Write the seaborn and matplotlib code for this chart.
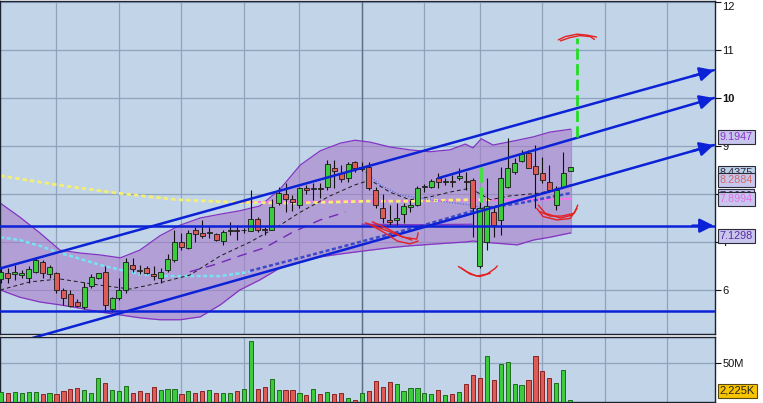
import matplotlib
matplotlib.use("Agg")
import matplotlib.pyplot as plt
import matplotlib.transforms as mtransforms
import seaborn as sns

# ---- price data (one candle per session) ----
opens = [6.22, 6.36, 6.33, 6.31, 6.24, 6.38, 6.58, 6.33, 6.35, 6.00,
         5.92, 5.76, 5.65, 6.08, 6.24, 6.38, 5.60, 5.83, 6.01, 6.52,
         6.42, 6.45, 6.33, 6.26, 6.42, 6.63, 6.99, 6.88, 7.26, 7.19,
         7.18, 7.16, 7.03, 7.22, 7.23, 7.24, 7.23, 7.47, 7.27, 7.25,
         7.81, 7.99, 7.90, 7.77, 8.12, 8.11, 8.13, 8.15, 8.55, 8.43,
         8.33, 8.66, 8.53, 8.57, 8.08, 7.71, 7.45, 7.46, 7.58, 7.73,
         7.77, 8.14, 8.15, 8.33, 8.26, 8.28, 8.33, 8.28, 8.29, 6.49,
         7.01, 7.63, 7.46, 8.15, 8.46, 8.69, 8.85, 8.59, 8.43, 8.24,
         7.77, 8.15, 8.48]
highs = [6.48, 6.46, 6.52, 6.42, 6.49, 6.68, 6.63, 6.52, 6.38, 6.04,
         5.99, 5.81, 6.17, 6.33, 6.36, 6.49, 5.86, 6.24, 6.66, 6.67,
         6.52, 6.50, 6.49, 6.45, 6.76, 7.25, 7.19, 7.26, 7.32, 7.46,
         7.31, 7.19, 7.25, 7.42, 7.35, 7.29, 8.08, 7.53, 7.32, 7.89,
         8.15, 8.22, 7.98, 8.15, 8.19, 8.22, 8.22, 8.71, 8.71, 8.60,
         8.66, 8.69, 8.66, 8.67, 8.15, 8.01, 7.77, 7.81, 7.81, 7.88,
         8.17, 8.20, 8.31, 8.43, 8.33, 8.40, 8.54, 8.46, 8.33, 7.85,
         8.33, 7.74, 8.57, 9.16, 8.74, 8.92, 8.92, 9.02, 8.78, 8.60,
         8.17, 8.88, 8.57]
lows = [6.15, 6.15, 6.21, 6.24, 6.14, 6.35, 6.26, 6.24, 5.94, 5.69,
        5.65, 5.65, 5.60, 6.04, 6.22, 5.55, 5.55, 5.79, 5.93, 6.38,
        6.33, 6.33, 6.21, 6.14, 6.38, 6.59, 6.83, 6.85, 7.01, 7.08,
        7.08, 7.02, 6.94, 7.15, 7.04, 7.19, 7.22, 7.21, 7.15, 7.24,
        7.77, 7.63, 7.65, 7.70, 8.01, 7.88, 7.91, 8.08, 8.12, 8.26,
        8.26, 8.46, 8.48, 8.08, 7.70, 7.39, 7.35, 7.35, 7.39, 7.62,
        7.74, 8.05, 8.12, 8.12, 8.19, 8.15, 8.29, 8.08, 7.11, 6.45,
        6.83, 7.11, 7.15, 8.12, 8.41, 8.66, 8.54, 7.70, 8.22, 8.05,
        7.67, 8.12, 8.47]
closes = [6.38, 6.26, 6.37, 6.36, 6.43, 6.63, 6.36, 6.47, 6.00, 5.84,
          5.67, 5.67, 6.07, 6.28, 6.35, 5.69, 5.83, 6.01, 6.58, 6.43,
          6.39, 6.36, 6.29, 6.38, 6.64, 6.99, 6.90, 7.19, 7.17, 7.13,
          7.19, 7.04, 7.21, 7.24, 7.22, 7.26, 7.47, 7.25, 7.24, 7.72,
          8.03, 7.89, 7.83, 8.12, 8.08, 8.12, 8.11, 8.62, 8.48, 8.31,
          8.62, 8.54, 8.56, 8.12, 7.77, 7.49, 7.42, 7.51, 7.76, 7.77,
          8.12, 8.16, 8.27, 8.24, 8.28, 8.26, 8.38, 8.26, 7.70, 7.70,
          7.74, 7.35, 8.33, 8.54, 8.64, 8.83, 8.55, 8.41, 8.29, 8.08,
          8.08, 8.43, 8.56]

# volume in millions and its up/down colouring
volumes = [12.2, 10.9, 12.2, 10.9, 12.2, 12.2, 9.6, 10.9, 9.6, 13.5,
           16.1, 17.4, 14.8, 10.9, 30.5, 24.0, 14.8, 13.5, 20.0, 10.9,
           13.5, 10.9, 18.7, 14.8, 16.1, 16.1, 9.6, 13.5, 10.9, 13.5,
           14.8, 10.9, 10.9, 10.9, 13.5, 16.1, 79.0, 16.1, 18.7, 29.2,
           14.8, 14.8, 14.8, 10.9, 8.3, 16.1, 9.6, 12.2, 9.6, 10.9,
           4.4, 1.8, 10.9, 13.5, 26.6, 19.5, 25.3, 22.7, 13.5, 17.4,
           17.4, 10.9, 9.6, 14.8, 8.3, 9.6, 12.2, 22.7, 34.3, 30.5,
           59.1, 27.9, 48.7, 51.3, 22.7, 21.4, 27.9, 59.1, 39.6, 30.5,
           24.0, 40.9, 1.8]
vol_dir = ("GRGGGGRGRR" "RRGGGRGGGR" "RRRGGGRGRR" "GRGGRGGRRG" "GRRGRGRGRR"
           "GRGRRRRGGG" "GGGRGRGRRR" "GRGGGGRRRR" "GGG")

# ---- indicators (x in session index, y in price) ----
band_x = [-0.1, 2.7, 5.6, 8.5, 11.4, 14.3, 17.2, 20.0, 22.9, 25.8, 28.7, 31.6,
          34.4, 37.3, 40.2, 43.1, 46.0, 48.9, 51.0, 53.2, 56.0, 58.9, 61.8,
          64.7, 66.9, 68.0, 69.2, 70.9, 74.4, 76.7, 79.1, 82.1]
band_upper = [7.81, 7.52, 7.19, 6.83, 6.77, 6.73, 6.67, 6.83, 7.13, 7.35, 7.50,
              7.58, 7.65, 7.75, 8.10, 8.60, 8.90, 9.06, 9.12, 9.08, 8.98, 8.92,
              8.88, 8.92, 9.04, 8.96, 9.15, 9.02, 9.12, 9.19, 9.29, 9.35]
band_lower = [6.00, 5.85, 5.75, 5.69, 5.62, 5.54, 5.48, 5.42, 5.38, 5.38, 5.44,
              5.69, 6.00, 6.21, 6.46, 6.58, 6.69, 6.75, 6.79, 6.83, 6.88, 6.92,
              6.95, 6.98, 7.00, 7.02, 7.00, 6.98, 6.94, 7.04, 7.10, 7.19]
shelf_x = [52.0, 60.0, 67.9]
shelf_y = [7.37, 7.36, 7.37]

yellow_x = [-0.1, 8.1, 16.7, 25.4, 33.4, 41.6, 52.9, 58.7, 67.2, 70.8]
yellow_y = [8.38, 8.19, 8.02, 7.88, 7.83, 7.81, 7.85, 7.85, 7.88, 7.88]
pink_x = [34.4, 43.1, 51.7, 60.4, 69.0, 77.7, 82.1]
pink_y = [7.83, 7.84, 7.85, 7.86, 7.87, 7.88, 7.90]
cyan_x = [-0.1, 2.7, 5.6, 8.5, 11.4, 14.3, 17.2, 20.0, 22.9, 27.2, 31.6, 35.9]
cyan_y = [7.10, 7.04, 6.92, 6.77, 6.65, 6.52, 6.42, 6.33, 6.29, 6.29, 6.29, 6.38]
navy_x = [35.9, 43.1, 51.7, 60.4, 69.0, 74.8, 82.1]
navy_y = [6.40, 6.67, 7.00, 7.33, 7.69, 7.81, 8.02]
mid_x = [-0.1, 4.2, 8.5, 14.3, 18.6, 22.9, 27.2, 31.6, 35.9, 40.2, 43.1, 47.4,
         51.0, 53.2, 56.0, 58.9, 61.8, 64.7, 67.6, 70.5, 73.3, 77.7, 82.1]
mid_y = [6.00, 6.17, 6.23, 6.10, 6.02, 6.15, 6.31, 6.71, 7.00, 7.35, 7.62, 7.96,
         8.19, 8.29, 8.04, 7.88, 7.94, 8.04, 8.12, 7.88, 7.96, 8.02, 8.19]
violet_x = [27.2, 30.6, 34.4, 38.0, 42.1, 46.0, 49.6]
violet_y = [6.38, 6.52, 6.71, 6.88, 7.21, 7.46, 7.62]
dotted_x = [52.5, 54.6, 57.5, 61.8, 67.6, 69.0]
dotted_y = [8.46, 8.19, 7.98, 7.88, 7.77, 7.73]

# ---- drawn trend lines: (x0, y0, x1, y1, arrow) ----
trend_lines = [
    (-0.1, 6.45, 102.7, 10.58, True),
    (63.0, 8.33, 102.7, 10.00, True),
    (-0.1, 4.81, 102.7, 9.02, True),
    (-0.1, 7.34, 102.7, 7.34, True),
    (-0.1, 5.57, 102.7, 5.57, False),
]
target_x, target_from, target_to = 83.0, 9.19, 11.25
gap_x, gap_from, gap_to = 69.1, 8.56, 7.77

# free-hand red marks
red_marks = [
    ([80.3, 81.3, 83.0, 84.4, 85.8], [11.21, 11.28, 11.33, 11.31, 11.27]),
    ([80.6, 82.0, 83.4, 84.9, 85.5], [11.19, 11.26, 11.30, 11.28, 11.22]),
    ([52.5, 54.2, 56.1, 57.9, 59.9, 60.1], [7.40, 7.31, 7.21, 7.10, 7.06, 7.19]),
    ([53.2, 55.3, 57.1, 58.9, 60.1], [7.36, 7.19, 7.02, 6.96, 7.02]),
    ([53.5, 55.8, 57.5, 59.2], [7.42, 7.27, 7.13, 7.04]),
    ([65.9, 67.1, 68.5, 70.0, 71.2, 71.5], [6.49, 6.38, 6.29, 6.33, 6.45, 6.50]),
    ([66.3, 67.6, 69.0, 70.5], [6.46, 6.33, 6.28, 6.35]),
    ([77.2, 78.1, 80.1, 82.0, 83.0], [7.70, 7.53, 7.46, 7.49, 7.70]),
    ([77.7, 79.1, 80.8, 82.6, 83.1], [7.63, 7.54, 7.54, 7.60, 7.77]),
    ([77.4, 78.4, 80.6, 82.3], [7.77, 7.60, 7.50, 7.56]),
]

# right-hand price tags: value, text colour, fill (later ones sit on top)
price_tags = [
    (9.1947, "#8a35c8", "#c9c6ee"),
    (8.4375, "#2a2a40", "#bcd0e6"),
    (8.2884, "#d06a6a", "#c9c6ee"),
    (7.9600, "#2a2a40", "#c9c6ee"),
    (7.8994, "#e070e8", "#c9c6ee"),
    (7.1298, "#5a2aa0", "#c9c6ee"),
]
month_grid = [8, 17, 26, 35, 43, 52, 61, 69, 78, 87, 96]
price_ticks = [6, 7, 8, 9, 10, 11, 12]

BG = "#c1d4e8"
GRID = "#8fa3bb"
BLUE = "#0c22d6"
UP, DOWN = "#3ccb3c", "#de5c56"

sns.set_style("white")
plt.rcParams["font.family"] = ["Liberation Sans", "DejaVu Sans"]

fig = plt.figure(figsize=(7.63, 4.03), dpi=100)
ax = fig.add_axes([0, 69 / 403, 714.5 / 763, 333 / 403])
vax = fig.add_axes([0, 1 / 403, 714.5 / 763, 65 / 403])

xlim = (-0.14, 102.8)
for a in (ax, vax):
    a.set_facecolor(BG)
    a.set_xlim(*xlim)
    a.set_xticks(month_grid)
    a.tick_params(axis="x", length=0, labelbottom=False)
    a.grid(True, color=GRID, lw=0.9, zorder=0)
    a.set_axisbelow(True)
    a.axvline(52, color="#5d6f86", lw=1.0, zorder=0.6)
    for s in a.spines.values():
        s.set_color("#1c2433")
        s.set_linewidth(1.0)
    a.yaxis.tick_right()
    a.tick_params(axis="y", direction="out", length=4, width=0.8, pad=1.5,
                  labelsize=8, colors="#111111")

ax.set_ylim(5.083, 12.021)
ax.set_yticks(price_ticks)
ax.set_yticklabels([str(t) for t in price_ticks])
for lab in ax.get_yticklabels():
    if lab.get_text() == "10":
        lab.set_fontweight("bold")
    if lab.get_text() == "12":
        lab.set_verticalalignment("top")

# Bollinger style envelope
ax.fill_between(band_x, band_lower, band_upper, color="#a87dca", alpha=0.6,
                lw=0, zorder=1)
ax.plot(band_x, band_upper, color="#8433c4", lw=0.9, zorder=1.5)
ax.plot(band_x, band_lower, color="#8433c4", lw=0.9, zorder=1.5)
ax.plot([band_x[-1], band_x[-1]], [band_lower[-1], band_upper[-1]],
        color="#a98fd0", lw=0.8, zorder=1.5)
ax.plot(shelf_x, shelf_y, color="#8433c4", lw=0.9, zorder=1.5)

# moving averages
sns.lineplot(x=pink_x, y=pink_y, ax=ax, color="#ff70ee", lw=1.2,
             sort=False, estimator=None, zorder=2)
sns.lineplot(x=yellow_x, y=yellow_y, ax=ax, color="#f3ef74", lw=2.0,
             linestyle=(0, (1.6, 1.1)), sort=False, estimator=None, zorder=2.1)
sns.lineplot(x=cyan_x, y=cyan_y, ax=ax, color="#74e4f2", lw=1.8,
             linestyle=(0, (1.6, 1.0)), sort=False, estimator=None, zorder=2.1)
sns.lineplot(x=navy_x, y=navy_y, ax=ax, color="#3b4bc8", lw=1.8,
             linestyle=(0, (1.6, 1.0)), sort=False, estimator=None, zorder=2.1)
sns.lineplot(x=mid_x, y=mid_y, ax=ax, color="#1a1a1a", lw=0.7,
             linestyle=(0, (4, 3)), sort=False, estimator=None, zorder=2.2)
sns.lineplot(x=violet_x, y=violet_y, ax=ax, color="#7428b8", lw=1.0,
             linestyle=(0, (7, 5)), sort=False, estimator=None, zorder=2.2)
sns.lineplot(x=dotted_x, y=dotted_y, ax=ax, color="#4466dd", lw=0.8,
             linestyle=(0, (1, 1.5)), sort=False, estimator=None, zorder=2.2)

# candles
idx = list(range(len(opens)))
for i, o, h, l, c in zip(idx, opens, highs, lows, closes):
    ax.vlines(i, l, h, color="#101010", lw=0.8, zorder=3)
    lo, hi = min(o, c), max(o, c)
    ax.bar(i, max(hi - lo, 0.02), bottom=lo, width=0.72,
           color=UP if c >= o else DOWN, edgecolor="#1a1a1a", lw=0.6, zorder=3.1)

# trend lines with arrow heads
for x0, y0, x1, y1, arrow in trend_lines:
    ax.plot([x0, x1], [y0, y1], color=BLUE, lw=1.8, zorder=5, clip_on=False)
    if arrow:
        t = 0.97
        ax.annotate("", xy=(x1, y1), xytext=(x0 + (x1 - x0) * t, y0 + (y1 - y0) * t),
                    arrowprops=dict(arrowstyle="-|>,head_length=0.6,head_width=0.3",
                                    color=BLUE, lw=1.8, mutation_scale=14,
                                    shrinkA=0, shrinkB=0), zorder=5,
                    annotation_clip=False)

ax.plot([target_x, target_x], [target_from, target_to], color="#22dd22", lw=2.0,
        linestyle=(0, (4, 1.6)), zorder=5)
ax.plot([gap_x, gap_x], [gap_from, gap_to], color="#44e044", lw=2.2,
        linestyle=(0, (5, 1.5)), zorder=4)

for xs, ys in red_marks:
    ax.plot(xs, ys, color="#e42020", lw=1.0, zorder=6, solid_capstyle="round")

# price tags on the right edge
trans = mtransforms.blended_transform_factory(ax.transAxes, ax.transData)
for val, tcol, face in price_tags:
    ax.text(1.007, val, f"{val:.4f}", transform=trans, ha="left", va="center",
            fontsize=7.8, color=tcol, clip_on=False, zorder=20,
            bbox=dict(boxstyle="square,pad=0.18", fc=face, ec="#2a2a3a", lw=0.8))

# volume panel
vol_colors = [UP if d == "G" else DOWN for d in vol_dir]
vol_edges = ["#1d6d1d" if d == "G" else "#8a2424" for d in vol_dir]
vax.bar(idx, volumes, width=0.6, color=vol_colors, edgecolor=vol_edges, lw=0.7,
        zorder=3)
vax.set_ylim(-0.3, 84.5)
vax.set_yticks([50])
vax.set_yticklabels(["50M"])
vtrans = mtransforms.blended_transform_factory(vax.transAxes, vax.transAxes)
vax.text(1.007, 0.17, "2,225K", transform=vtrans, ha="left", va="center",
         fontsize=8, color="#222222", clip_on=False, zorder=20,
         bbox=dict(boxstyle="square,pad=0.18", fc="#f8c400", ec="#5a4a10", lw=0.8))

fig.savefig("out.png", dpi=100)
